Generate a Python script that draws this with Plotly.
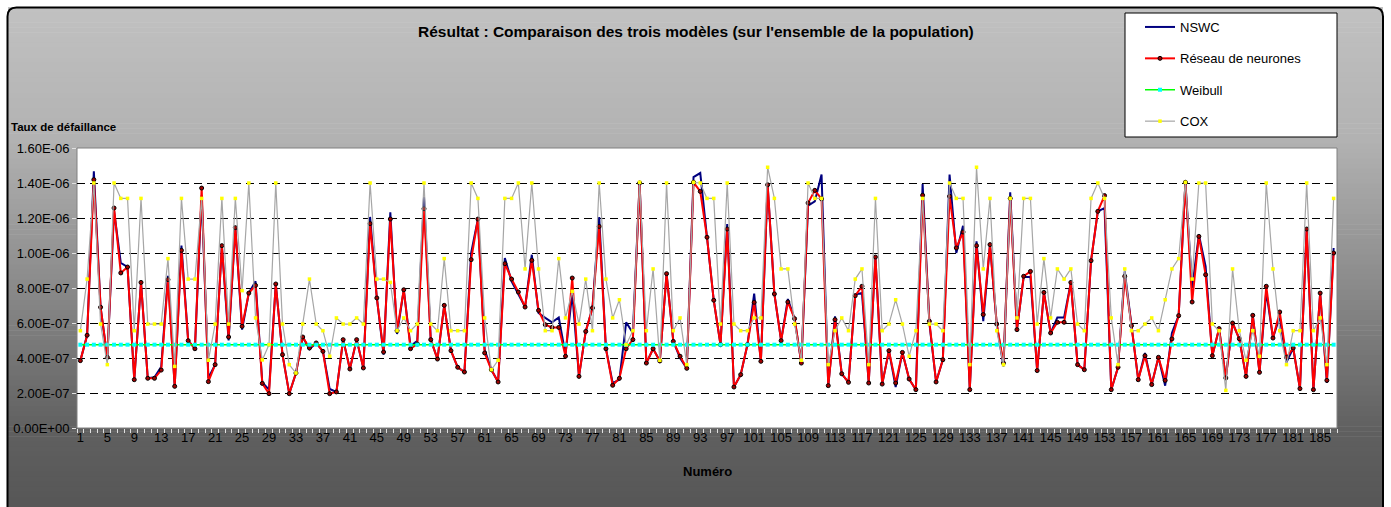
import plotly.graph_objects as go

# ---------------- data (values in units of 1e-7) ----------------
numeros = list(range(1, 188))

reseau = [3.85, 5.3, 14.19, 6.9, 4.04, 12.57, 8.86, 9.2, 2.76, 8.32,
          2.84, 2.84, 3.31, 8.48, 2.38, 10.15, 4.99, 4.53, 13.71, 2.65,
          3.62, 10.42, 5.2, 11.45, 5.81, 7.71, 8.15, 2.55, 1.96, 8.23,
          4.19, 1.96, 3.14, 5.2, 4.57, 4.86, 4.38, 1.96, 2.06, 5.05,
          3.37, 5.05, 3.43, 11.68, 7.43, 4.34, 11.94, 5.56, 7.9, 4.53,
          4.8, 12.53, 5.05, 3.94, 7.01, 4.42, 3.47, 3.2, 9.62, 11.94,
          4.29, 3.33, 2.63, 9.39, 8.51, 7.77, 6.91, 9.58, 6.72, 5.9,
          5.75, 5.75, 4.1, 8.57, 2.95, 5.52, 6.86, 11.52, 4.53, 2.44,
          2.84, 4.53, 5.05, 14.0, 3.71, 4.53, 3.83, 8.82, 4.95, 4.1,
          3.41, 14.04, 13.52, 10.9, 7.3, 4.76, 11.37, 2.34, 3.05, 4.76,
          7.18, 3.81, 13.9, 7.66, 4.99, 7.2, 6.25, 3.71, 12.86, 13.58,
          13.09, 2.42, 6.19, 3.1, 2.61, 7.56, 8.1, 2.57, 9.77, 2.51,
          4.42, 2.57, 4.32, 2.8, 2.19, 13.3, 6.1, 2.63, 3.9, 13.24,
          10.29, 11.2, 2.19, 10.42, 6.48, 10.48, 5.94, 3.71, 13.12, 5.62,
          8.67, 8.95, 3.28, 7.75, 5.43, 6.04, 6.04, 8.32, 3.62, 3.33,
          9.56, 12.38, 13.28, 2.19, 3.47, 8.67, 5.85, 2.76, 4.13, 2.48,
          4.04, 2.72, 5.09, 6.42, 14.04, 7.2, 10.95, 8.76, 4.13, 5.68,
          2.86, 6.0, 5.1, 2.95, 6.44, 3.18, 8.1, 5.14, 6.63, 4.04,
          4.57, 2.25, 11.37, 2.19, 7.71, 2.72, 10.0]

nswc = [3.85, 5.3, 14.67, 6.9, 4.0, 12.4, 9.43, 9.2, 2.76, 8.32,
        2.84, 2.9, 3.5, 8.7, 2.38, 10.42, 4.99, 4.53, 13.3, 2.86,
        3.62, 10.42, 5.0, 11.45, 5.62, 7.71, 8.38, 2.6, 2.19, 8.23,
        4.19, 1.96, 3.14, 5.2, 4.51, 4.86, 4.38, 2.23, 2.06, 5.05,
        3.37, 5.05, 3.43, 12.06, 7.43, 4.19, 12.32, 5.37, 7.9, 4.67,
        4.99, 13.2, 5.05, 3.94, 7.01, 4.42, 3.47, 3.2, 10.0, 11.94,
        4.48, 3.33, 2.63, 9.71, 8.38, 7.6, 6.91, 9.9, 6.57, 6.29,
        6.04, 6.32, 4.2, 7.71, 2.95, 5.52, 6.86, 12.06, 4.53, 2.57,
        2.76, 6.04, 5.43, 14.0, 3.71, 4.53, 3.83, 8.82, 4.95, 4.0,
        3.41, 14.34, 14.57, 10.9, 7.3, 4.76, 11.66, 2.34, 3.05, 4.76,
        7.68, 3.81, 13.9, 7.66, 4.99, 7.37, 6.25, 3.71, 12.7, 12.95,
        14.48, 2.42, 6.38, 3.1, 2.61, 7.62, 7.71, 2.57, 9.77, 2.51,
        4.42, 2.34, 4.32, 2.8, 2.19, 13.94, 6.0, 2.63, 3.9, 14.48,
        10.0, 11.56, 2.19, 10.67, 6.1, 10.48, 5.94, 3.52, 13.47, 5.62,
        8.63, 8.63, 3.28, 7.75, 5.43, 6.32, 6.32, 8.32, 3.62, 3.33,
        9.56, 12.38, 12.57, 2.19, 3.47, 8.95, 5.85, 2.76, 4.29, 2.48,
        4.04, 2.42, 5.43, 6.42, 14.04, 8.0, 11.05, 9.24, 4.13, 5.68,
        2.86, 6.0, 5.1, 2.95, 6.44, 3.18, 7.81, 5.14, 6.38, 3.75,
        4.57, 2.25, 11.37, 2.19, 7.71, 2.57, 10.29]

cox = [5.56, 8.51, 14.0, 5.94, 3.62, 14.0, 13.12, 13.12, 5.56, 13.12,
       5.94, 5.94, 5.94, 9.68, 3.52, 13.12, 8.51, 8.51, 13.12, 3.87,
       5.94, 13.12, 5.94, 13.12, 7.85, 14.0, 6.29, 3.89, 4.76, 14.0,
       5.94, 3.62, 3.14, 5.94, 8.51, 5.94, 5.56, 4.1, 6.29, 5.94,
       5.94, 6.29, 5.94, 14.0, 8.51, 8.51, 8.32, 5.56, 6.29, 5.56,
       5.94, 14.0, 5.94, 5.56, 9.68, 5.56, 5.56, 5.56, 14.0, 13.12,
       6.29, 3.33, 3.87, 13.12, 13.12, 14.0, 9.09, 14.0, 9.09, 5.56,
       5.56, 9.68, 6.29, 7.81, 5.94, 8.51, 5.56, 14.0, 8.51, 6.29,
       7.33, 4.76, 5.56, 14.04, 5.56, 9.09, 3.87, 14.0, 5.56, 6.29,
       3.62, 14.04, 14.0, 13.12, 13.12, 5.94, 14.0, 5.94, 5.56, 5.56,
       6.29, 6.29, 14.9, 13.12, 9.09, 9.09, 5.94, 3.87, 14.0, 13.12,
       13.12, 3.62, 5.56, 6.29, 5.56, 8.51, 9.09, 3.62, 13.12, 5.56,
       5.94, 7.33, 5.94, 4.1, 5.56, 13.12, 5.94, 5.94, 5.56, 14.0,
       13.12, 13.12, 3.62, 14.9, 9.09, 13.12, 5.56, 3.62, 13.12, 6.29,
       13.12, 13.12, 5.94, 9.68, 6.29, 9.09, 8.51, 9.09, 5.94, 5.56,
       13.12, 14.0, 13.12, 6.29, 3.62, 9.09, 5.56, 5.56, 5.94, 6.29,
       5.56, 7.33, 9.09, 9.68, 14.04, 8.51, 14.0, 14.0, 5.94, 5.56,
       2.15, 9.09, 5.56, 3.87, 5.56, 4.1, 14.0, 9.09, 5.56, 3.62,
       5.56, 5.56, 14.0, 5.56, 6.29, 3.62, 13.12]

weibull_value = 4.76

y_tick_values = [0, 2e-7, 4e-7, 6e-7, 8e-7, 1e-6, 1.2e-6, 1.4e-6, 1.6e-6]
y_tick_labels = ["0.00E+00", "2.00E-07", "4.00E-07", "6.00E-07", "8.00E-07",
                 "1.00E-06", "1.20E-06", "1.40E-06", "1.60E-06"]
x_tick_values = list(range(1, 188, 4))
x_tick_labels = [str(v) for v in x_tick_values]

UNIT = 1e-7
reseau_v = [v * UNIT for v in reseau]
nswc_v = [v * UNIT for v in nswc]
cox_v = [v * UNIT for v in cox]
weibull_v = [weibull_value * UNIT for _ in numeros]

# ---------------- layout geometry ----------------
W, H = 1391, 507
L, R, T, B = 77, 1337, 148, 428
FONT = "Liberation Sans, Arial"


def px(x):
    return (x - L) / (R - L)


def py(y):
    return (B - y) / (B - T)


fig = go.Figure()

fig.add_trace(go.Scatter(x=numeros, y=nswc_v, name="NSWC", mode="lines",
                         line=dict(color="#000080", width=2), legendgroup="a"))
fig.add_trace(go.Scatter(x=numeros, y=reseau_v, name="Réseau de neurones", mode="lines+markers",
                         line=dict(color="#ff0000", width=2),
                         marker=dict(size=4, color="#a00000", line=dict(color="#000000", width=1)),
                         legendgroup="b"))
fig.add_trace(go.Scatter(x=numeros, y=weibull_v, name="Weibull", mode="lines+markers",
                         line=dict(color="#00ff00", width=1.5),
                         marker=dict(size=4, symbol="square", color="#00ffff"),
                         legendgroup="c"))
fig.add_trace(go.Scatter(x=numeros, y=cox_v, name="COX", mode="lines+markers",
                         line=dict(color="#a6a6a6", width=1.2),
                         marker=dict(size=3.5, symbol="square", color="#ffff00"),
                         legendgroup="d"))

shapes = []
# gradient background bands inside the chart frame (piecewise gray stops)
grad_stops = [(7, 193), (140, 178), (280, 140), (430, 96), (510, 86)]


def gray_at(y):
    for (ya, ca), (yb, cb) in zip(grad_stops[:-1], grad_stops[1:]):
        if y <= yb:
            return ca + (cb - ca) * (y - ya) / (yb - ya)
    return grad_stops[-1][1]


y0f, y1f = 7, 512
n = 100
for k in range(n):
    ya = y0f + (y1f - y0f) * k / n
    yb = y0f + (y1f - y0f) * (k + 1) / n + 0.6
    g = int(round(gray_at((ya + yb) / 2)))
    shapes.append(dict(type="rect", xref="paper", yref="paper", layer="below",
                       x0=px(8), x1=px(1383), y0=py(ya), y1=py(yb),
                       fillcolor="rgb(%d,%d,%d)" % (g, g, g), line=dict(width=0)))
# frame with rounded top corners
x_a, x_b, y_a, y_b, r = px(7.5), px(1383), py(7.5), py(515), 9
rx, ry = r / (R - L), r / (B - T)
frame_path = ("M %f %f L %f %f Q %f %f %f %f L %f %f Q %f %f %f %f L %f %f"
              % (x_a, y_b, x_a, y_a - ry, x_a, y_a, x_a + rx, y_a,
                 x_b - rx, y_a, x_b, y_a, x_b, y_a - ry, x_b, y_b))
shapes.append(dict(type="path", xref="paper", yref="paper", layer="below",
                   path=frame_path, line=dict(color="#000000", width=2)))
# plot area white background
shapes.append(dict(type="rect", xref="paper", yref="paper", layer="below",
                   x0=0, x1=1, y0=0, y1=1, fillcolor="#ffffff",
                   line=dict(color="#808080", width=1)))
# legend box
shapes.append(dict(type="rect", xref="paper", yref="paper", layer="below",
                   x0=px(1125), x1=px(1337), y0=py(13), y1=py(137),
                   fillcolor="#ffffff", line=dict(color="#000000", width=1)))

annotations = [
    dict(text="<b>Résultat : Comparaison des trois modèles (sur l'ensemble de la population)</b>",
         xref="paper", yref="paper", x=px(696), y=py(32), showarrow=False,
         font=dict(family=FONT, size=15.5, color="#000000"),
         xanchor="center", yanchor="middle"),
    dict(text="<b>Taux de défaillance</b>", xref="paper", yref="paper",
         x=px(9), y=py(127), showarrow=False, xanchor="left", yanchor="middle",
         font=dict(family=FONT, size=11.5, color="#000000")),
    dict(text="<b>Numéro</b>", xref="paper", yref="paper",
         x=px(707), y=py(471), showarrow=False, xanchor="center", yanchor="middle",
         font=dict(family=FONT, size=13, color="#000000")),
]

fig.update_layout(
    width=W, height=H,
    margin=dict(l=L, r=W - R, t=T, b=H - B, pad=0, autoexpand=False),
    paper_bgcolor="#ffffff",
    plot_bgcolor="rgba(0,0,0,0)",
    font=dict(family=FONT, size=13, color="#000000"),
    shapes=shapes,
    annotations=annotations,
    showlegend=True,
    legend=dict(xref="container", yref="container", x=1140 / W, y=1 - 12 / H,
                xanchor="left", yanchor="top", bgcolor="rgba(0,0,0,0)",
                borderwidth=0, tracegroupgap=11.5, itemwidth=30,
                font=dict(family=FONT, size=13, color="#000000")),
    xaxis=dict(range=[0.5, 187.5], tickmode="array", tickvals=x_tick_values,
               ticktext=x_tick_labels, ticks="", showgrid=False, zeroline=False,
               showline=False, tickfont=dict(family=FONT, size=13, color="#000000"),
               minor=dict(ticks="outside", tick0=0.5, dtick=1, ticklen=4,
                          tickcolor="#e0e0e0", tickwidth=1, showgrid=False)),
    yaxis=dict(range=[0, 1.6e-6], tickmode="array", tickvals=y_tick_values,
               ticktext=y_tick_labels, showgrid=True, gridcolor="#000000",
               griddash="8px,5px", gridwidth=1, zeroline=False, showline=False,
               ticks="outside", ticklen=4, tickcolor="#e0e0e0",
               tickfont=dict(family=FONT, size=13, color="#000000")),
)

fig.write_html("out.html", config={"displayModeBar": False},
               post_script="document.body.style.margin='0px';document.body.style.padding='0px';")
